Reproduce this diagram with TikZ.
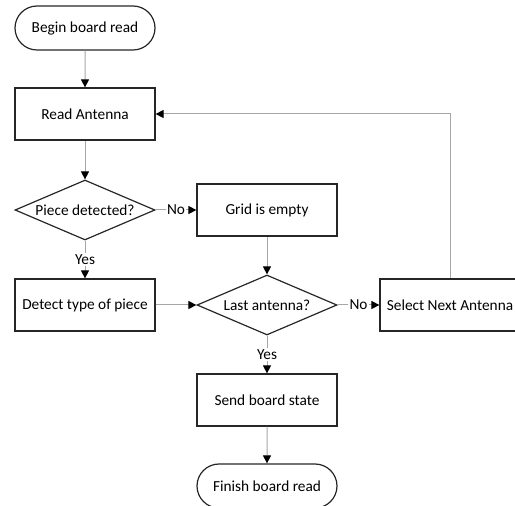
\documentclass[tikz,border=0pt]{standalone}
\usepackage{fontspec}
\setmainfont{Carlito}
\usetikzlibrary{shapes.geometric,shapes.misc,arrows.meta}

\definecolor{edgegray}{HTML}{A6A6A6}
\definecolor{boxline}{HTML}{262626}

\tikzset{
  base/.style={draw=boxline, line width=0.9pt, font=\fontsize{11.5}{13}\selectfont, inner sep=0pt},
  process/.style={base, rectangle, minimum width=105pt, minimum height=39pt},
  terminal/.style={base, rounded rectangle, minimum width=105pt, minimum height=33pt},
  decision/.style={base, diamond, minimum width=105pt, minimum height=45pt},
  flow/.style={draw=edgegray, line width=0.75pt, -{Triangle[length=6pt,width=6pt,color=black]}},
  branch/.style={fill=white, inner sep=1pt, font=\fontsize{11.5}{13}\selectfont}
}

\begin{document}
\begin{tikzpicture}[x=0.75pt, y=-0.75pt]
  \useasboundingbox (0,0) rectangle (515,506);
  \clip (0,0) rectangle (515,506);

  % left column
  \node[terminal] (begin)  at (85,28)  {Begin board read};
  \node[process]  (read)   at (85,114) {Read Antenna};
  \node[decision] (piece)  at (85,210) {\makebox[0pt]{Piece detected?}};
  \node[process]  (detect) at (85,305) {Detect type of piece};

  % middle column
  \node[process]  (grid)   at (267,210) {Grid is empty};
  \node[decision] (last)   at (267,305) {\makebox[0pt]{Last antenna?}};
  \node[process]  (send)   at (267,400) {Send board state};
  \node[terminal] (finish) at (267,486) {Finish board read};

  % right column
  \node[process]  (select) at (450,305) {Select Next Antenna};

  % connectors
  \draw[flow] (begin) -- (read);
  \draw[flow] (read) -- (piece);
  \draw[flow] (piece.east) -- node[branch] {No} (grid.west);
  \draw[flow] (piece.south) -- node[branch] {Yes} (detect.north);
  \draw[flow] (grid) -- (last);
  \draw[flow] (detect.east) -- (last.west);
  \draw[flow] (last.east) -- node[branch] {No} (select.west);
  \draw[flow] (last.south) -- node[branch] {Yes} (send.north);
  \draw[flow] (send) -- (finish);
  \draw[flow] (select.north) |- (read.east);
\end{tikzpicture}
\end{document}
